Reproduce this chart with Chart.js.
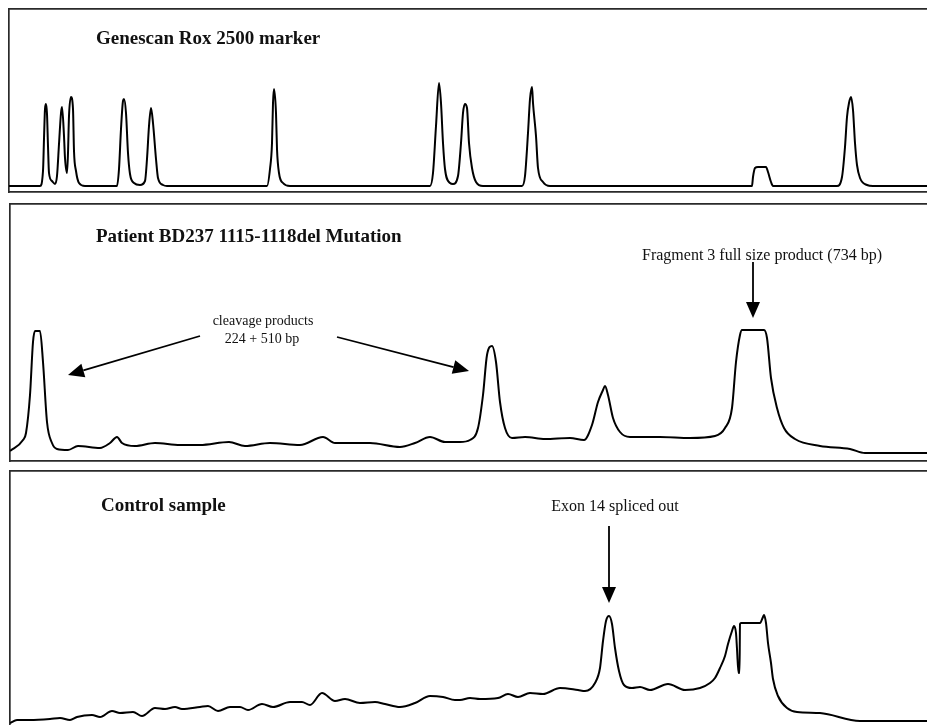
<!DOCTYPE html>
<html>
<head>
<meta charset="utf-8">
<script src="https://cdn.jsdelivr.net/npm/chart.js@4.4.1/dist/chart.umd.min.js"></script>
<style>
  html, body { margin: 0; padding: 0; background: #fff; overflow: hidden; }
  body { width: 927px; height: 725px; position: relative; }
  canvas { position: absolute; }
  .lbl { position: absolute; white-space: nowrap; font-family: "Liberation Serif", "Times New Roman", serif; color: #111; }
</style>
</head>
<body>
<canvas id="marker"></canvas>
<canvas id="patient"></canvas>
<canvas id="control"></canvas>

<script>
// Genescan Rox 2500 marker trace (scan position, signal)
const markerX = [9, 40, 43, 44, 45, 46, 47, 48, 49, 52, 55, 57, 59, 61, 62, 64, 65, 67, 68, 69, 71, 73, 74, 76, 79, 85,
  117, 119, 121, 123, 124, 126, 128, 130, 134, 140, 145, 147, 149, 151, 153, 156, 158, 163, 167,
  267, 270, 272, 273, 274, 276, 277, 279, 283, 290,
  430, 433, 436, 439, 441, 443, 445, 450, 453, 458, 461, 463, 465, 467, 469, 472, 476, 483,
  522, 525, 528, 530, 532, 533, 536, 538, 543, 550,
  752, 753, 755, 758, 766, 768, 771, 773,
  837, 842, 845, 847, 849, 851, 853, 855, 857, 860, 867, 873, 927];
const markerY = [0, 0, 15, 47, 77, 82, 72, 40, 13, 5, 2, 10, 42, 73, 79, 50, 28, 13, 33, 70, 89, 77, 35, 15, 3, 0,
  0, 17, 57, 85, 87, 73, 33, 12, 3, 1, 5, 27, 60, 78, 63, 27, 8, 1, 0,
  0, 17, 43, 83, 97, 73, 37, 13, 3, 0,
  0, 13, 60, 103, 83, 43, 17, 3, 2, 10, 43, 73, 82, 78, 43, 18, 4, 0,
  0, 10, 53, 87, 99, 83, 50, 18, 4, 0,
  0, 9, 18, 19, 19, 14, 4, 0,
  0, 9, 39, 69, 83, 89, 76, 43, 21, 8, 1, 0, 0];

// Patient BD237 trace
const patientX = [10, 23, 26, 30, 33, 35, 40, 43, 47, 52, 57, 68, 78, 100, 110, 117, 122, 135, 155, 180, 200, 229, 245,
  270, 300, 323, 335, 370, 400, 415, 430, 445, 460, 470, 478, 483, 487, 492, 496, 500, 505, 512, 525, 545,
  570, 584, 592, 598, 603, 605, 608, 613, 620, 630, 660, 690, 715, 725, 732, 736, 740, 742, 764, 767, 771,
  777, 784, 795, 820, 850, 865, 927];
const patientY = [10, 21, 28, 66, 119, 130, 130, 99, 39, 18, 12, 11, 15, 13, 18, 24, 18, 15, 18, 16, 16, 19, 15,
  18, 16, 24, 18, 18, 14, 18, 24, 19, 19, 21, 33, 66, 106, 115, 99, 59, 33, 23, 24, 22,
  23, 21, 36, 59, 71, 75, 66, 43, 29, 24, 24, 23, 25, 33, 53, 99, 126, 131, 131, 123, 83,
  53, 33, 22, 15, 12, 8, 8];

// Control sample trace
const controlX = [10, 17, 30, 50, 60, 70, 77, 92, 100, 112, 120, 133, 142, 155, 165, 175, 182, 200, 208, 218, 230, 240,
  248, 262, 273, 290, 302, 310, 322, 335, 345, 360, 375, 385, 400, 415, 430, 443, 455, 460, 470, 480, 498,
  508, 518, 530, 543, 560, 578, 585, 595, 600, 603, 606, 609, 612, 615, 619, 624, 632, 640, 650, 668, 685,
  700, 710, 715, 720, 725, 728, 732, 734, 736, 737, 738.5, 739.5, 740, 741, 760, 763, 764, 766, 768, 771,
  773, 778, 787, 797, 820, 860, 927];
const controlY = [3, 6, 6, 7, 8, 6, 9, 11, 9, 15, 13, 14, 10, 18, 17, 19, 17, 19, 20, 15, 19, 19,
  16, 22, 19, 24, 24, 21, 33, 25, 27, 23, 24, 22, 19, 23, 30, 29, 26, 26, 28, 27, 28,
  32, 29, 33, 32, 38, 36, 35, 43, 58, 85, 105, 110, 102, 78, 55, 41, 38, 39, 36, 42, 36,
  38, 43, 48, 58, 70, 82, 95, 100, 93, 77, 53, 53, 102, 103, 103, 109, 111, 103, 83, 63,
  47, 30, 18, 14, 13, 5, 5];

// Panels: box on the page and value range of the y axis
const panels = [
  { id: "marker", xs: markerX, ys: markerY, left: 9, top: 9, bottom: 192, yMin: -6, yMax: 177,
    arrows: [] },
  { id: "patient", xs: patientX, ys: patientY, left: 10, top: 204, bottom: 461, yMin: 0, yMax: 257,
    arrows: [
      { from: [200, 125], to: [68, 86] },
      { from: [337, 124], to: [469, 90] },
      { from: [753, 199], to: [753, 143] },
    ] },
  { id: "control", xs: controlX, ys: controlY, left: 10, top: 471, bottom: 726, yMin: 0, yMax: 255,
    arrows: [
      { from: [609, 200], to: [609, 123] },
    ] },
];

// Texts
const labels = [
  { text: "Genescan Rox 2500 marker", x: 96, base: 43.5, size: 19, bold: true },
  { text: "Patient BD237 1115-1118del Mutation", x: 96, base: 241.5, size: 19, bold: true },
  { text: "Control sample", x: 101, base: 510.5, size: 19, bold: true },
  { text: "cleavage products", cx: 263, base: 325.5, size: 14 },
  { text: "224 + 510 bp", cx: 262, base: 344, size: 14 },
  { text: "Fragment 3 full size product (734 bp)", cx: 762, base: 260, size: 16 },
  { text: "Exon 14 spliced out", cx: 615, base: 511.5, size: 16 },
];

const PAD = 3;
const RIGHT = 927;
const lineColor = "#000";
const boxColor = "#2a2a2a";

// Plugin to draw the arrows of the annotations
const arrowPlugin = {
  id: "arrows",
  afterDatasetsDraw(chart, args, opts) {
    const ctx = chart.ctx;
    const xs = chart.scales.x;
    const ys = chart.scales.y;
    (opts.list || []).forEach((a) => {
      const x1 = xs.getPixelForValue(a.from[0]);
      const y1 = ys.getPixelForValue(a.from[1]);
      const x2 = xs.getPixelForValue(a.to[0]);
      const y2 = ys.getPixelForValue(a.to[1]);
      const ang = Math.atan2(y2 - y1, x2 - x1);
      const headLen = 16;
      const headW = 7;
      const bx = x2 - headLen * Math.cos(ang);
      const by = y2 - headLen * Math.sin(ang);
      ctx.save();
      ctx.strokeStyle = "#000";
      ctx.fillStyle = "#000";
      ctx.lineWidth = 1.8;
      ctx.beginPath();
      ctx.moveTo(x1, y1);
      ctx.lineTo(bx, by);
      ctx.stroke();
      ctx.beginPath();
      ctx.moveTo(x2, y2);
      ctx.lineTo(bx + headW * Math.sin(ang), by - headW * Math.cos(ang));
      ctx.lineTo(bx - headW * Math.sin(ang), by + headW * Math.cos(ang));
      ctx.closePath();
      ctx.fill();
      ctx.restore();
    });
  },
};

const edgeAxis = (position) => ({
  type: "linear",
  position: position,
  grid: { display: false, drawTicks: false },
  ticks: { display: false },
  border: { display: true, color: boxColor, width: 1.7 },
});

panels.forEach((p) => {
  const canvas = document.getElementById(p.id);
  const w = RIGHT - p.left + 2 * PAD;
  const h = p.bottom - p.top + 2 * PAD;
  canvas.width = w;
  canvas.height = h;
  canvas.style.left = p.left - PAD + "px";
  canvas.style.top = p.top - PAD + "px";
  canvas.style.width = w + "px";
  canvas.style.height = h + "px";

  const points = p.xs.map((x, i) => ({ x: x, y: p.ys[i] }));

  new Chart(canvas, {
    type: "line",
    plugins: [arrowPlugin],
    data: {
      datasets: [
        {
          data: points,
          borderColor: lineColor,
          borderWidth: 2,
          pointRadius: 0,
          fill: false,
          cubicInterpolationMode: "monotone",
        },
      ],
    },
    options: {
      responsive: false,
      animation: false,
      events: [],
      layout: { padding: PAD },
      scales: {
        x: Object.assign(edgeAxis("bottom"), { min: p.left, max: RIGHT }),
        x2: Object.assign(edgeAxis("top"), { min: p.left, max: RIGHT }),
        y: Object.assign(edgeAxis("left"), { min: p.yMin, max: p.yMax }),
      },
      plugins: {
        legend: { display: false },
        tooltip: { enabled: false },
        arrows: { list: p.arrows },
      },
    },
  });
});

// Place the texts as page elements
labels.forEach((l) => {
  const d = document.createElement("div");
  d.className = "lbl";
  d.textContent = l.text;
  d.style.fontSize = l.size + "px";
  d.style.lineHeight = l.size + "px";
  d.style.fontWeight = l.bold ? "bold" : "normal";
  d.style.top = l.base - 0.8375 * l.size + "px";
  if (l.cx !== undefined) {
    d.style.left = l.cx + "px";
    d.style.transform = "translateX(-50%)";
  } else {
    d.style.left = l.x + "px";
  }
  document.body.appendChild(d);
});
</script>
</body>
</html>
